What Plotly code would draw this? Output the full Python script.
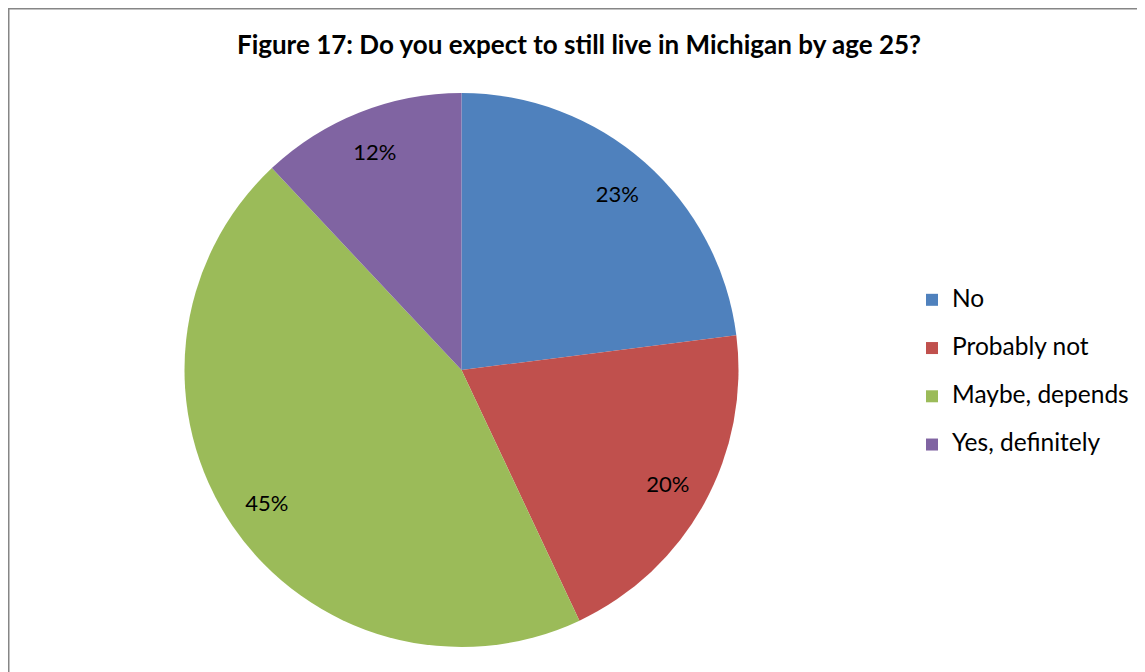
import plotly.graph_objects as go

# survey answers, share of respondents (%)
answers = ["No", "Probably not", "Maybe, depends", "Yes, definitely"]
shares = [23, 20, 45, 12]
slice_colors = ["#4F81BD", "#C0504D", "#9BBB59", "#8064A2"]

W, H = 1145, 672
FONT = "Lato"

# legend rows are two lines tall so they space out like the original
legend_names = ['<span style="font-size:24.5px">' + a + "</span><br> " for a in answers]

pie_domain = dict(x=[176 / W, 731 / W], y=[1 - 639 / H, 1 - 85 / H])

fig = go.Figure()
# the coloured pie
fig.add_trace(
    go.Pie(
        labels=legend_names,
        values=shares,
        marker=dict(colors=slice_colors, line=dict(width=0)),
        sort=False,
        direction="clockwise",
        rotation=0,
        textinfo="none",
        domain=pie_domain,
        hoverinfo="skip",
    )
)
# see-through ring on top, only used to put the % labels near the rim
fig.add_trace(
    go.Pie(
        labels=answers,
        values=shares,
        hole=0.7,
        marker=dict(colors=["rgba(0,0,0,0)"] * len(answers), line=dict(width=0)),
        sort=False,
        direction="clockwise",
        rotation=0,
        texttemplate="%{value}%",
        textposition="inside",
        insidetextorientation="horizontal",
        textfont=dict(family=FONT, size=22, color="black"),
        domain=pie_domain,
        hoverinfo="skip",
        showlegend=False,
    )
)

# chart frame (left and top edges visible, the rest is off-page)
fig.add_shape(
    type="rect", xref="paper", yref="paper",
    x0=0.5 / W, x1=1.02, y0=-0.02, y1=1 - 0.5 / H,
    line=dict(color="#868686", width=2), fillcolor="rgba(0,0,0,0)",
)

fig.update_layout(
    width=W,
    height=H,
    margin=dict(l=0, r=0, t=0, b=0),
    paper_bgcolor="white",
    plot_bgcolor="white",
    title=dict(
        text="<b>Figure 17: Do you expect to still live in Michigan by age 25?</b>",
        x=571 / W, xanchor="center", y=1 - 37 / H, yanchor="middle",
        font=dict(family=FONT, size=26, color="black"),
    ),
    legend=dict(
        x=904 / W, xanchor="left", y=1 - 274 / H, yanchor="top",
        font=dict(family=FONT, size=17.4, color="black"),
        valign="top",
        bgcolor="rgba(0,0,0,0)",
    ),
    showlegend=True,
)

fig.write_html("out.html")
